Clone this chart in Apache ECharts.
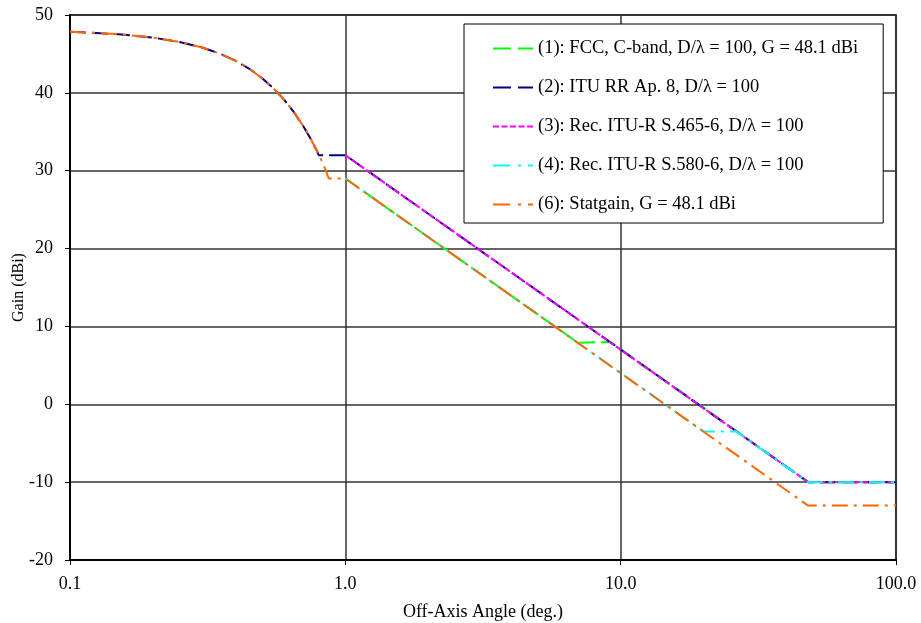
<!DOCTYPE html>
<html>
<head>
<meta charset="utf-8">
<script src="https://cdn.jsdelivr.net/npm/echarts@6/dist/echarts.min.js"></script>
<style>html,body{margin:0;padding:0;background:#fff}#c{width:921px;height:623px}</style>
</head>
<body>
<div id="c"></div>
<script>
// Series names
const names = [
  '(1): FCC, C-band, D/\u03bb = 100, G = 48.1 dBi',
  '(2): ITU RR Ap. 8, D/\u03bb = 100',
  '(3): Rec. ITU-R S.465-6, D/\u03bb = 100',
  '(4): Rec. ITU-R S.580-6, D/\u03bb = 100',
  '(6): Statgain, G = 48.1 dBi'
];
// x ticks (log axis)
const xTicks = [0.1, 1, 10, 100];
const yTicks = [-20, -10, 0, 10, 20, 30, 40, 50];

// (1) FCC
const fccAngle = [1, 7, 7, 9.2, 9.2, 48, 100];
const fccGain  = [29, 7.9, 8, 8, 7.9, -10, -10];
// (2) ITU RR Ap. 8
const ituAngle = [0.1, 0.15, 0.2, 0.25, 0.3, 0.35, 0.4, 0.45, 0.5, 0.55, 0.6, 0.65, 0.7, 0.75, 0.79, 0.8, 1, 48, 100];
const ituGain  = [47.85, 47.54, 47.1, 46.54, 45.85, 45.04, 44.1, 43.04, 41.85, 40.54, 39.1, 37.54, 35.85, 34.04, 32.5, 32, 32, -10, -10];
// (3) Rec. ITU-R S.465-6
const s465Angle = [1, 48, 100];
const s465Gain  = [32, -10, -10];
// (4) Rec. ITU-R S.580-6
const s580Angle = [1, 20, 26.3, 48, 100];
const s580Gain  = [29, -3.5, -3.5, -10, -10];
// (6) Statgain
const statAngle = [0.1, 0.15, 0.2, 0.25, 0.3, 0.35, 0.4, 0.45, 0.5, 0.55, 0.6, 0.65, 0.7, 0.75, 0.8, 0.85, 0.87, 1, 47.9, 100];
const statGain  = [47.85, 47.54, 47.1, 46.54, 45.85, 45.04, 44.1, 43.04, 41.85, 40.54, 39.1, 37.54, 35.85, 34.04, 32.1, 30.04, 29, 29, -13, -13];

const zip = (a, b) => a.map((v, i) => [v, b[i]]);
const font = 'Liberation Serif';

const dashIcon = 'path://M0,0h18v2h-18zM25,0h15v2h-15z';
const shortIcon = 'path://M0,0h6v2h-6zM8.5,0h6v2h-6zM17,0h6v2h-6zM25.5,0h6v2h-6zM34,0h6v2h-6z';
const dashDotIcon = 'path://M0,0h17v2h-17zM25,0h3v2h-3zM35,0h5v2h-5z';

const styles = [
  {color: '#00FF00', type: [16, 6], icon: dashIcon},
  {color: '#000080', type: [16, 6], icon: dashIcon},
  {color: '#FF00FF', type: [6, 2.5], icon: shortIcon},
  {color: '#00FFFF', type: [16, 6, 3, 6], icon: dashDotIcon},
  {color: '#FF6600', type: [16, 6, 3, 6], icon: dashDotIcon}
];
const datasets = [
  zip(fccAngle, fccGain),
  zip(ituAngle, ituGain),
  zip(s465Angle, s465Gain),
  zip(s580Angle, s580Gain),
  zip(statAngle, statGain)
];

const chart = echarts.init(document.getElementById('c'), null, {renderer: 'canvas'});
chart.setOption({
  animation: false,
  backgroundColor: '#fff',
  grid: {left: 70, right: 25, top: 15, bottom: 63, containLabel: false, outerBoundsMode: 'none',
    show: true, borderColor: '#000', borderWidth: 1.5},
  legend: {
    orient: 'vertical',
    left: 464, top: 24,
    padding: [15, 25, 9, 29],
    itemGap: 20,
    itemWidth: 40, itemHeight: 2,
    symbolKeepAspect: false,
    backgroundColor: '#fff',
    borderColor: '#000',
    borderWidth: 1,
    textStyle: {fontFamily: font, fontSize: 18.5, color: '#000', padding: [0, 0, 0, 0]},
    data: names.map((n, i) => ({name: n, icon: styles[i].icon}))
  },
  xAxis: {
    type: 'log', logBase: 10, min: xTicks[0], max: xTicks[xTicks.length - 1],
    name: 'Off-Axis Angle (deg.)', nameLocation: 'middle', nameGap: 43,
    nameTextStyle: {fontFamily: font, fontSize: 18, color: '#000'},
    axisLine: {onZero: false, lineStyle: {color: '#000', width: 2}},
    axisTick: {show: true, length: 5, lineStyle: {color: '#000'}},
    minorTick: {show: false},
    axisLabel: {fontFamily: font, fontSize: 18, color: '#000', margin: 15,
      formatter: v => Number(v).toFixed(1)},
    splitLine: {show: true, lineStyle: {color: '#333', width: 1.5}}
  },
  yAxis: {
    type: 'value', min: yTicks[0], max: yTicks[yTicks.length - 1], interval: 10,
    name: 'Gain (dBi)', nameLocation: 'middle', nameGap: 43, nameRotate: 90,
    nameMoveOverlap: false,
    nameTextStyle: {fontFamily: font, fontSize: 16, color: '#000'},
    axisLine: {show: true, onZero: false, lineStyle: {color: '#000', width: 2}},
    axisTick: {show: true, length: 5, lineStyle: {color: '#000'}},
    axisLabel: {fontFamily: font, fontSize: 18, color: '#000', margin: 17},
    splitLine: {show: true, lineStyle: {color: '#333', width: 1.5}}
  },
  series: datasets.map((d, i) => ({
    name: names[i],
    type: 'line',
    data: d,
    symbol: 'none',
    showSymbol: false,
    lineStyle: {color: styles[i].color, width: 2, type: styles[i].type},
    itemStyle: {color: styles[i].color}
  }))
});
</script>
</body>
</html>
